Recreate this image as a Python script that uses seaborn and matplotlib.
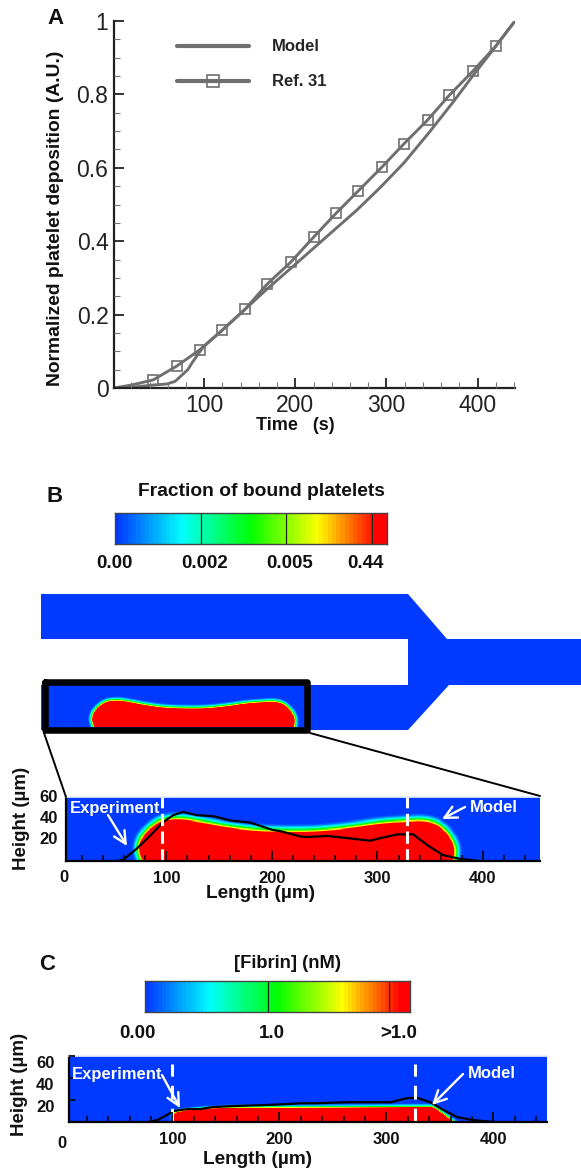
import numpy as np
import pandas as pd
import seaborn as sns
import matplotlib.pyplot as plt
from matplotlib.colors import LinearSegmentedColormap
from matplotlib.lines import Line2D
from matplotlib.path import Path
from matplotlib.ticker import MultipleLocator

# panel A curves
model_time = [1, 20, 44, 59, 68, 82, 87, 99, 120, 145, 169, 194, 236, 268, 293, 319, 348, 374, 396, 418, 441]
model_dep = [0, .002, .008, .011, .018, .05, .07, .112, .158, .215, .27, .324, .416, .486, .546, .613, .70, .782, .855, .925, 1.0]
ref_time = [1, 20, 44, 70, 95, 120, 145, 169, 195, 220, 245, 269, 295, 319, 345, 369, 395, 420, 441]
ref_dep = [0, .008, .022, .06, .104, .158, .215, .283, .343, .411, .477, .537, .602, .665, .73, .798, .864, .932, 1.0]

# panel B, red clot outline and experiment outline
clot_b_len = [78, 73.5, 78, 91.5, 101, 115, 132, 158, 182, 208, 239, 271, 303, 328, 343, 356.5, 367, 373, 371]
clot_b_h = [0, 12, 24, 36, 38.4, 39, 36, 31, 28, 27, 27, 30, 35, 36.5, 37.5, 34, 24, 12, 0]
exp_b_len = [53.6, 59, 72.5, 85, 97, 106.6, 116, 129, 144.5, 160.6, 179.5, 201, 208, 227, 233.5, 252.5, 271.5, 293, 303, 319, 334, 347, 362, 378, 397]
exp_b_h = [0, 1, 12, 24, 36.5, 43, 46, 43, 42, 38, 36, 29, 28, 23, 22.5, 23.5, 21.5, 19, 21.5, 25, 25, 15, 5.6, 2, 0]

# panel C, fibrin outline and experiment outline
clot_c_len = [101, 101, 107.5, 138, 201, 266, 338, 344, 362.6]
clot_c_h = [0, 8, 10, 12.7, 13, 13.2, 13.6, 13.6, 0]
exp_c_len = [77.6, 86, 95, 101, 114, 126, 138, 157, 189, 201, 220, 232, 263.5, 304, 320, 329, 341, 353, 366, 381, 400]
exp_c_h = [0, 1.8, 6.4, 10, 11.8, 11.8, 13.6, 14.5, 15.5, 16, 17, 17, 18, 18, 21.8, 21.8, 18, 11, 4.5, 1.8, 0]

# channel outline of the schematic (pixels of the page)
channel_x = [41, 408, 447, 581, 581, 449, 408, 41, 41, 408, 408, 41]
channel_y = [594, 594, 639, 639, 685, 685, 730, 730, 685, 685, 639, 639]

W, H = 581, 1172
GRAY = '#6f6f6f'
BLUE = '#0039ff'

sns.set_theme(style="ticks")
plt.rcParams['font.family'] = ['Liberation Sans', 'DejaVu Sans']
plt.rcParams['axes.axisbelow'] = False

rainbow = LinearSegmentedColormap.from_list(
    'rainbow_field', [(0, '#0039ff'), (.24, '#00ffff'), (.5, '#00ff00'), (.75, '#ffff00'), (.97, '#ff0000'), (1, '#ff0000')])


def px_axes(left, top, right, bottom, **kw):
    return fig.add_axes([left / W, 1 - bottom / H, (right - left) / W, (bottom - top) / H], **kw)


def round_outline(lengths, heights, rounds):
    # corner cutting, keeps both ends of the outline
    pts = np.column_stack([lengths, heights]).astype(float)
    for _ in range(rounds):
        q = .75 * pts[:-1] + .25 * pts[1:]
        r = .25 * pts[:-1] + .75 * pts[1:]
        mid = np.empty((2 * len(q), 2))
        mid[0::2] = q
        mid[1::2] = r
        pts = np.vstack([pts[:1], mid, pts[-1:]])
    return pts


def clot_field(lengths, heights, xlim, ylim, halo, rounds):
    xs = np.arange(xlim[0], xlim[1], .5)
    ys = np.arange(ylim[1], ylim[0], -.5)
    gx, gy = np.meshgrid(xs, ys)
    pts = np.column_stack([gx.ravel(), gy.ravel()])
    verts = round_outline(lengths, heights, rounds)
    inside = Path(np.vstack([verts, verts[0]])).contains_points(pts)
    dist = np.full(len(pts), np.inf)
    for a, b in zip(verts[:-1], verts[1:]):
        t = np.clip(((pts - a) @ (b - a)) / ((b - a) @ (b - a)), 0, 1)
        dist = np.minimum(dist, np.hypot(*(pts - a - t[:, None] * (b - a)).T))
    val = np.clip(1 - dist / halo, 0, 1) ** 2 * .97
    val[inside] = 1
    return val.reshape(gx.shape)


def heat(rect, data):
    ax = px_axes(*rect)
    sns.heatmap(data, ax=ax, cmap=rainbow, vmin=0, vmax=1, cbar=False, xticklabels=False, yticklabels=False)
    ax.set_xlabel('')
    ax.set_ylabel('')
    return ax


def colorbar(rect, dividers, steps=64):
    ax = heat(rect, np.linspace(0, 1, steps)[None, :])
    for d in dividers:
        ax.axvline((d - rect[0]) / (rect[2] - rect[0]) * steps, color='#222222', lw=.9)
    for s in ax.spines.values():
        s.set_visible(True)
        s.set_color('#444444')
        s.set_linewidth(1)


def field_panel(rect, xlim, lengths, heights, halo, rounds, exp_len, exp_h, dash_x, dash_top, dash, ytick_len, ypad, yva):
    heat(rect, clot_field(lengths, heights, xlim, (0, 60), halo, rounds))
    ax = px_axes(*rect, facecolor='none')
    sns.lineplot(x=exp_len, y=exp_h, ax=ax, color='black', lw=1.6, sort=False, errorbar=None)
    for d in dash_x:
        ax.plot([d, d], [0, dash_top], color='white', lw=2.2, ls=(0, dash))
    ax.set_xlim(*xlim)
    ax.set_ylim(0, 60)
    ax.set_xticks([100, 200, 300, 400])
    ax.xaxis.set_minor_locator(MultipleLocator(20))
    ax.set_yticks([20, 40, 60])
    ax.tick_params(axis='x', which='major', direction='in', length=7.5, width=1.2, color='black', pad=7, labelsize=12)
    ax.tick_params(axis='x', which='minor', direction='in', length=4.5, width=1.1, color='black')
    ax.tick_params(axis='y', direction='in', length=ytick_len, width=1.2, color='black', pad=ypad, labelsize=12)
    plt.setp(ax.get_xticklabels() + ax.get_yticklabels(), fontweight='bold', color='#111111')
    plt.setp(ax.get_yticklabels(), va=yva)
    ax.set_xlabel('')
    ax.set_ylabel('')
    ax.spines['left'].set_linewidth(1.6)
    ax.spines['bottom'].set_linewidth(1.6)
    ax.spines['left'].set_color('black')
    ax.spines['bottom'].set_color('black')
    ax.spines['top'].set_color('#e8ecff')
    ax.spines['right'].set_visible(False)
    return ax


fig = plt.figure(figsize=(W / 100, H / 100), dpi=100)

# page layer under the panels: channel of the schematic
under = px_axes(0, 0, W, H, facecolor='none')
under.set_xlim(0, W)
under.set_ylim(H, 0)
under.axis('off')
under.fill(channel_x, channel_y, color=BLUE, lw=0)

# A
ax_a = px_axes(114, 21, 515, 388, facecolor='none')
sns.lineplot(data=pd.DataFrame({'t': model_time, 'd': model_dep}), x='t', y='d', ax=ax_a, color=GRAY, lw=2.1, errorbar=None)
sns.lineplot(data=pd.DataFrame({'t': ref_time, 'd': ref_dep}), x='t', y='d', ax=ax_a, color=GRAY, lw=2.1, errorbar=None,
             marker='s', ms=7.2, mfc='none', mec=GRAY, mew=1.2, markevery=list(range(2, len(ref_time) - 1)))
ax_a.set_xlim(1, 441)
ax_a.set_ylim(0, 1)
ax_a.set_xticks([100, 200, 300, 400])
ax_a.set_yticks([0, .2, .4, .6, .8, 1], labels=['0', '0.2', '0.4', '0.6', '0.8', '1'])
ax_a.xaxis.set_minor_locator(MultipleLocator(20))
ax_a.yaxis.set_minor_locator(MultipleLocator(.05))
ax_a.tick_params(which='major', direction='in', length=7, width=1.3, color='#222222', labelsize=16.5, labelcolor='#222222')
ax_a.tick_params(axis='x', which='major', pad=4)
ax_a.tick_params(axis='y', which='major', pad=4)
ax_a.tick_params(which='minor', direction='in', length=4, width=.8, color='#777777')
ax_a.set_xlabel('')
ax_a.set_ylabel('')
for side in ['left', 'bottom']:
    ax_a.spines[side].set_linewidth(1.6)
    ax_a.spines[side].set_color('#222222')
ax_a.spines['top'].set_visible(False)
ax_a.spines['right'].set_visible(False)
handles = [Line2D([], [], color=GRAY, lw=3),
           Line2D([], [], color=GRAY, lw=3, marker='s', ms=8.5, mfc='none', mec=GRAY, mew=1.2)]
ax_a.legend(handles, ['Model', 'Ref. 31'], frameon=False, loc='upper left', bbox_to_anchor=(.157, .95), borderaxespad=0,
            borderpad=0, handlelength=4.3, handletextpad=1.4, labelspacing=1.2, numpoints=1,
            prop={'weight': 'bold', 'size': 12})

# colour bars
colorbar((115, 513, 387, 544), [201, 286, 372])
colorbar((145, 981, 410, 1012), [268, 389])

# B and C
field_panel((66, 797, 540, 861), (5, 454), clot_b_len, clot_b_h, 9, 3, exp_b_len, exp_b_h, [96, 328], 60, (4, 1.8), 0, 6, 'center')
field_panel((68.5, 1056, 547, 1122), (3, 450), clot_c_len, clot_c_h, 4, 1, exp_c_len, exp_c_h, [100, 327], 53, (4.5, 3), 4.5, 10, 'top')

# small copy of the clot inside the schematic box
heat((48, 685, 304, 727), clot_field(clot_b_len, clot_b_h, (9, 387), (0, 62), 8, 3))

# page layer over the panels: zoom box, callouts, texts
top = px_axes(0, 0, W, H, facecolor='none')
top.set_xlim(0, W)
top.set_ylim(H, 0)
top.axis('off')
top.plot([44.5, 307, 307, 44.5, 44.5], [681.5, 681.5, 730, 730, 681.5], color='black', lw=4.7, solid_joinstyle='round')
top.plot([44, 66], [733, 797], color='black', lw=1.4)
top.plot([310, 540], [733, 796], color='black', lw=1.4)
for start, end in [((108, 815), (127, 846)), ((465, 807), (442, 819)), ((162, 1075), (180, 1108)), ((463, 1074), (432, 1105))]:
    top.annotate('', xy=end, xytext=start, arrowprops=dict(arrowstyle='->', color='white', lw=1.7, mutation_scale=22, shrinkA=0, shrinkB=0))


def label(x, y, s, size=12, color='#111111', **kw):
    top.text(x, y, s, fontsize=size, fontweight='bold', color=color, ha='center', va='center', **kw)


label(55, 18, 'A', 16)
label(55, 497, 'B', 16)
label(47, 965, 'C', 16)
label(56, 218, 'Normalized platelet deposition (A.U.)', 13.9, rotation=90)
label(295, 425, 'Time   (s)', 13)
label(261, 491, 'Fraction of bound platelets', 13.9)
for x, s in zip([114, 205, 290, 365], ['0.00', '0.002', '0.005', '0.44']):
    label(x, 563, s, 13.5)
label(288, 964, '[Fibrin] (nM)', 13.2)
for x, s in zip([137, 272, 399], ['0.00', '1.0', '>1.0']):
    label(x, 1034, s, 13.5)
label(64, 877, '0', 12)
label(62, 1144, '0', 12)
label(261, 893, 'Length (µm)', 13.7)
label(258, 1160, 'Length (µm)', 13.7)
label(22, 818, 'Height (µm)', 13.5, rotation=90)
label(20, 1084, 'Height (µm)', 13.5, rotation=90)
label(115, 809, 'Experiment', 12, color='white')
label(494, 808, 'Model', 12, color='white')
label(117, 1075, 'Experiment', 12, color='white')
label(492, 1074, 'Model', 12, color='white')

fig.savefig('out.png', dpi=100)
